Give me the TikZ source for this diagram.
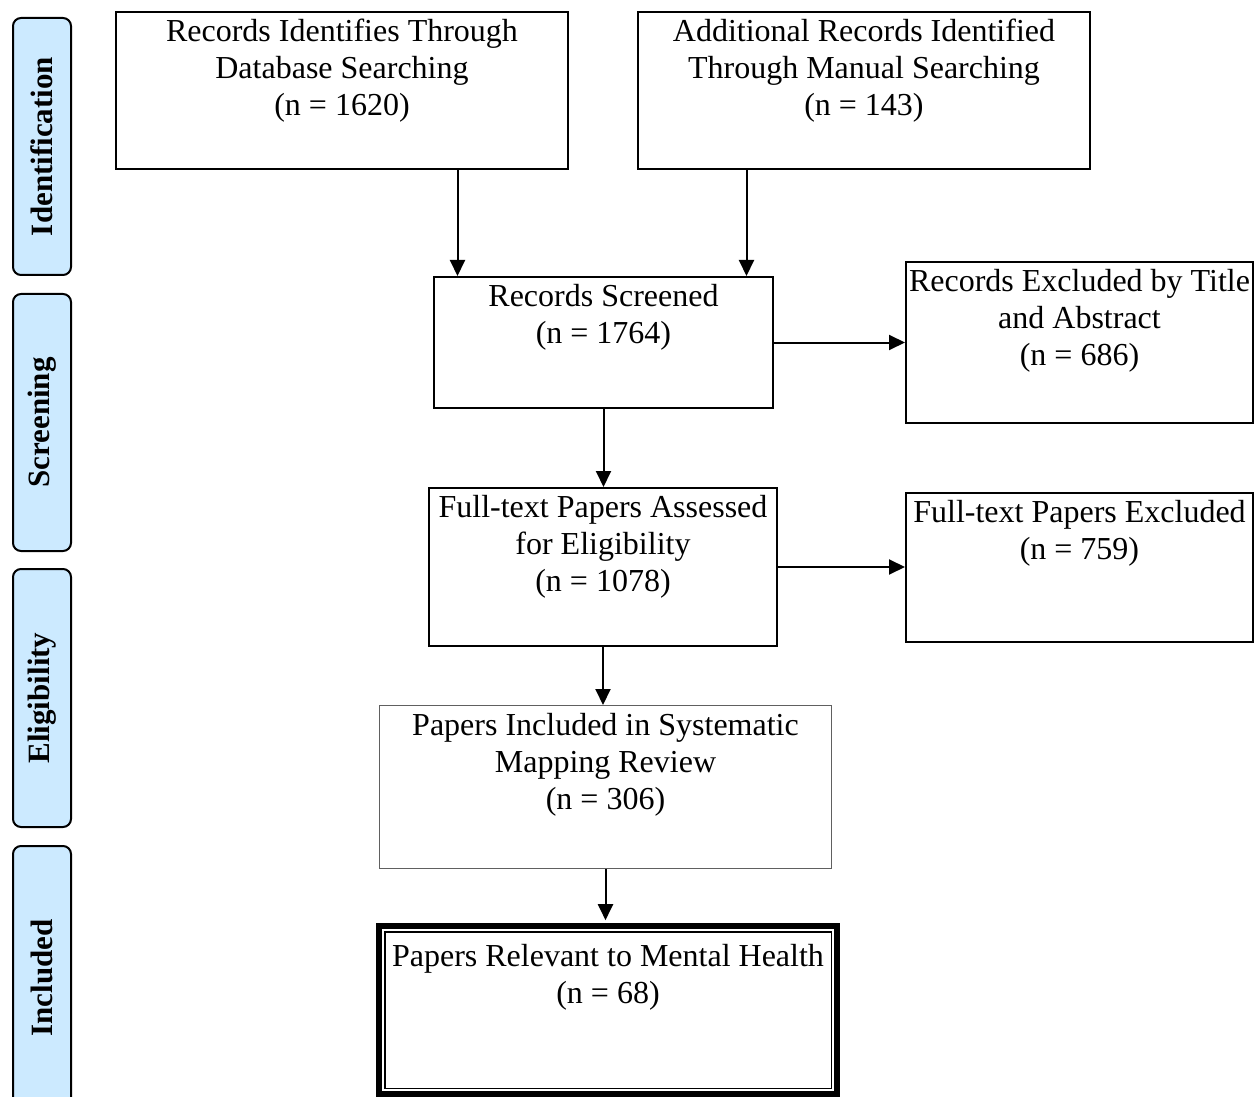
\documentclass[tikz,border=0pt]{standalone}
\usepackage{fontspec}
\setmainfont{Liberation Serif}
\usetikzlibrary{arrows.meta,positioning}
\definecolor{phasefill}{HTML}{CCEAFF}
\definecolor{thinedge}{HTML}{606060}
\tikzset{
    raw flow box/.style={rectangle, draw, line width=1pt, inner sep=0pt},
    flow box/.style={raw flow box, black, fill=white},
    flow box thin/.style={raw flow box, thinedge, line width=0.5pt, fill=white},
    flow box final/.style={raw flow box, black, line width=2.8pt, fill=white},
    flow text/.style={inner sep=0pt, align=center, font=\fontsize{16}{18.5}\selectfont},
    phase/.style={rectangle, draw, line width=1pt, rounded corners=4pt, fill=phasefill,
        minimum width=29pt, inner sep=0pt},
    phase text/.style={rotate=90, font=\fontsize{15.5}{18}\selectfont\bfseries}
}
\begin{document}
\begin{tikzpicture}[x=0.5pt, y=-0.5pt, >={Triangle[length=8pt,width=7.5pt]}]
    \useasboundingbox (0,0) rectangle (1255,1097);
    % phases on the left
    \begin{scope}[every node/.style={phase}]
        \node[minimum height=128.5pt] (idf) at (42,146.5) {};
        \node[minimum height=128.5pt] (scn) at (42,422.5) {};
        \node[minimum height=129pt] (elg) at (42,698) {};
        \node[minimum height=132pt] (inl) at (42,978) {};
    \end{scope}
    \node[phase text] (idf-t) at (idf) {Identification};
    \node[phase text] (scn-t) at (scn) {Screening};
    \node[phase text] (elg-t) at (elg) {Eligibility};
    \node[phase text] (inl-t) at (inl) {Included};
    % boxes
    \node[flow box, minimum width=226pt, minimum height=78.5pt] (db) at (342,90.5) {};
    \node[flow box, minimum width=226pt, minimum height=78.5pt] (man) at (864,90.5) {};
    \node[flow box, minimum width=169.5pt, minimum height=65.5pt] (scr) at (603.5,342.5) {};
    \node[flow box, minimum width=173.5pt, minimum height=80.5pt] (exa) at (1079.5,342.5) {};
    \node[flow box, minimum width=174pt, minimum height=79pt] (ft) at (603,567) {};
    \node[flow box, minimum width=173.5pt, minimum height=74.5pt] (exf) at (1079.5,567.5) {};
    \node[flow box thin, minimum width=226pt, minimum height=81.5pt] (inc) at (605.5,787) {};
    \node[flow box final, minimum width=229pt, minimum height=84pt] (rel) at (608,1010) {};
    \draw[line width=0.8pt] ([shift={(8.5,8.5)}]rel.north west) rectangle ([shift={(-8.5,-8.5)}]rel.south east);
    % texts
    \node[flow text, below=4pt of db.north] (db-t) {Records Identifies Through\\Database Searching\\(n = 1620)};
    \node[flow text, below=4pt of man.north] (man-t) {Additional Records Identified\\Through Manual Searching\\(n = 143)};
    \node[flow text, below=4pt of scr.north] (scr-t) {Records Screened\\(n = 1764)};
    \node[flow text, below=4pt of exa.north] (exa-t) {Records Excluded by Title\\and Abstract\\(n = 686)};
    \node[flow text, below=4pt of ft.north] (ft-t) {Full-text Papers Assessed\\for Eligibility\\(n = 1078)};
    \node[flow text, below=4pt of exf.north] (exf-t) {Full-text Papers Excluded\\(n = 759)};
    \node[flow text, below=4pt of inc.north] (inc-t) {Papers Included in Systematic\\Mapping Review\\(n = 306)};
    \node[flow text, below=10.5pt of rel.north] (rel-t) {Papers Relevant to Mental Health\\(n = 68)};
    % arrows
    \coordinate (in1) at ([xshift=-73pt]scr.north);
    \coordinate (in2) at ([xshift=71.5pt]scr.north);
    \begin{scope}[line width=1pt]
        \draw[->] (db.south -| in1) -- (in1);
        \draw[->] (man.south -| in2) -- (in2);
        \draw[->] (scr.east) -- (exa.west);
        \draw[->] (scr.south) -- (scr.south |- ft.north);
        \draw[->] (ft.east) -- (ft.east -| exf.west);
        \draw[->] (ft.south) -- (ft.south |- inc.north);
        \draw[->, shorten >=1.5pt] (inc.south) -- (inc.south |- rel.north);
    \end{scope}
\end{tikzpicture}
\end{document}
